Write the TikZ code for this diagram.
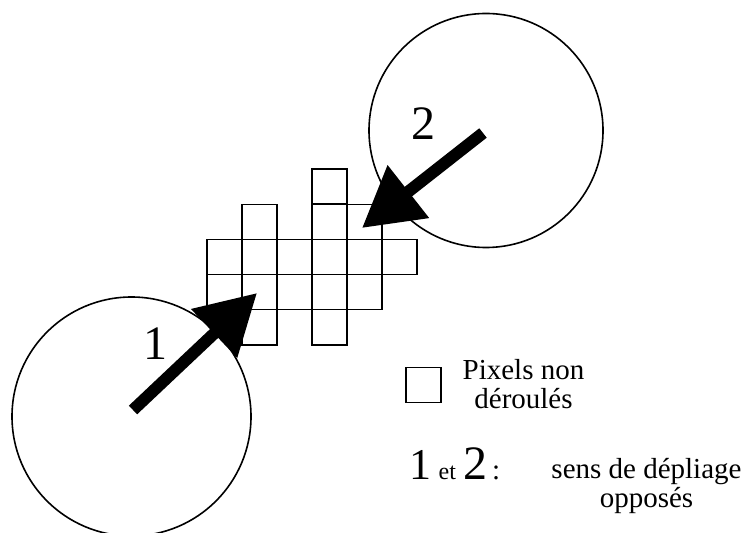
\documentclass[tikz,border=0pt]{standalone}
\usepackage{fontspec}
\setmainfont{Liberation Serif}
\usetikzlibrary{arrows.meta}

\begin{document}
\begin{tikzpicture}[x=0.5pt, y=-0.5pt,
	pixel/.style={draw, line width=0.6pt, minimum size=17.5pt, inner sep=0pt},
	disc/.style={draw, circle, line width=0.8pt, inner sep=0pt},
	sweep/.style={line width=6pt, -{Triangle[length=29.5pt, width=32pt]}},
	digit/.style={font=\fontsize{24}{28}\selectfont, inner sep=0pt},
	legend/.style={font=\fontsize{14.5}{14.5}\selectfont, align=center, inner sep=0pt}]
	\useasboundingbox (0,0) rectangle (747,533);
	% Circles and numbers:
	\node[disc, minimum size=119.5pt](C1) at (131.5, 416.5){};
	\node[disc, minimum size=117pt](C2) at (486, 130.5){};
	\node[digit](N1) at (155, 344){1};
	\node[digit](N2) at (423.5, 124){2};
	% Pixels:
	\foreach \c/\r in {0/2, 0/3, 1/1, 1/2, 1/3, 1/4, 2/2, 2/3, 3/0, 3/1, 3/2, 3/3, 3/4, 4/1, 4/2, 4/3, 5/2}
		\node[pixel](P\c\r) at (224.5+35*\c, 186.6+35.2*\r){};
	% Unfolding directions:
	\coordinate (T1) at (133, 410);
	\coordinate (H1) at (257, 293);
	\coordinate (T2) at (483, 133);
	\coordinate (H2) at (362, 228);
	\draw[sweep] (T1) -- (H1);
	\draw[sweep] (T2) -- (H2);
	% Legend:
	\node[pixel](Leg) at (423.5, 385){};
	\node[legend](LegTxt) at (523.5, 383.6){Pixels non\\déroulés};
	\node[anchor=base west, inner sep=0pt, font=\fontsize{14.5}{14.5}\selectfont](Key) at (409, 479){{\fontsize{22}{22}\selectfont 1} {\fontsize{12}{12}\selectfont et} {\fontsize{24}{24}\selectfont 2}\,:};
	\node[legend, font=\fontsize{14.5}{14}\selectfont](Sens) at (646.5, 486){sens de dépliage\\opposés};
\end{tikzpicture}
\end{document}
